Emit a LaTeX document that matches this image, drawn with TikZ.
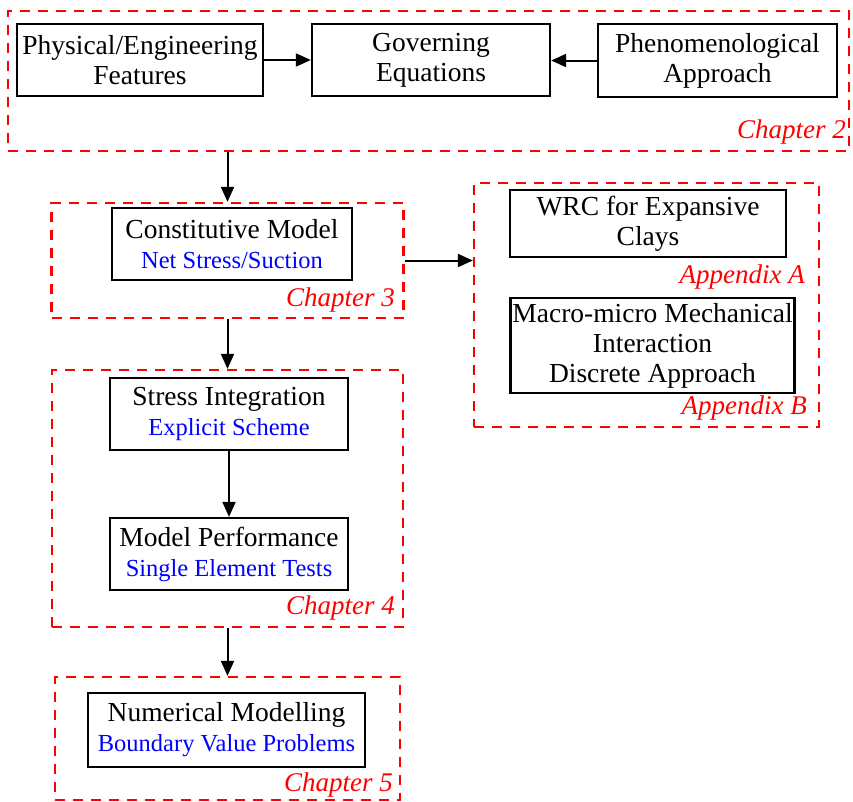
\documentclass[tikz,border=0pt]{standalone}
\usepackage{fontspec}
\setmainfont{Liberation Serif}
\usepackage{tikz}
\usetikzlibrary{positioning, arrows.meta}

\begin{document}
\begin{tikzpicture}[x=1pt, y=-1pt]
  \tikzstyle{box}=[draw=black, line width=2.3pt, inner sep=2pt, align=center, font=\fontsize{27.5}{30}\selectfont]
  \tikzstyle{frame}=[draw=red, line width=2.3pt, dash pattern=on 10pt off 8pt, inner sep=0pt]
  \tikzstyle{chap}=[anchor=east, inner sep=0pt, text=red, font=\fontsize{27}{30}\selectfont\itshape]
  \tikzstyle{arr}=[line width=2pt, -{Triangle[length=15pt, width=13pt]}]
  \newcommand{\sub}[1]{{\color{blue}\fontsize{24.5}{28}\selectfont #1}}
  \useasboundingbox (0,0) rectangle (853,801);

  % chapter 2
  \node (chap2) at (428.5, 81) [frame, minimum width=841pt, minimum height=140pt] {};
  \node (phys) at (140, 60) [box, minimum width=246pt, minimum height=72pt] {Physical/Engineering\\ Features};
  \node (gov) at (431, 60) [box, minimum width=238pt, minimum height=72pt] {Governing\\ Equations};
  \node (phen) at (717.5, 60.5) [box, minimum width=239pt, minimum height=73pt] {Phenomenological\\ Approach};
  \node (lab2) at (846, 132) [chap] {Chapter 2};
  \draw[arr] (phys.east) -- (gov.west);
  \draw[arr] (phen.west) -- (phen.west -| gov.east);

  % chapter 3
  \node (chap3) at (227.5, 260.5) [frame, minimum width=352pt, minimum height=115pt] {};
  \node (const) at (232, 244) [box, minimum width=240pt, minimum height=72pt] {Constitutive Model\\ \sub{Net Stress/Suction}};
  \node (lab3) at (395, 300) [chap] {Chapter 3};

  % appendices
  \node (app) at (646.5, 305) [frame, minimum width=345pt, minimum height=244pt] {};
  \node (wrc) at (648, 223.5) [box, minimum width=276pt, minimum height=67pt] {WRC for Expansive\\ Clays};
  \node (labA) at (805, 277) [chap] {Appendix A};
  \node (macro) at (652.5, 345.5) [box, minimum width=283pt, minimum height=95pt] {Macro-micro Mechanical\\ Interaction\\ Discrete Approach};
  \node (labB) at (807, 408) [chap] {Appendix B};

  % chapter 4
  \node (chap4) at (227.5, 498.5) [frame, minimum width=351pt, minimum height=257pt] {};
  \node (stress) at (229, 414) [box, minimum width=238pt, minimum height=72pt] {Stress Integration\\ \sub{Explicit Scheme}};
  \node (perf) at (229, 554) [box, minimum width=238pt, minimum height=72pt] {Model Performance\\ \sub{Single Element Tests}};
  \node (lab4) at (395, 608) [chap] {Chapter 4};
  \draw[arr] (stress.south) -- (perf.north);

  % chapter 5
  \node (chap5) at (227.5, 738.5) [frame, minimum width=345pt, minimum height=123pt] {};
  \node (numer) at (226.5, 730) [box, minimum width=277pt, minimum height=74pt] {Numerical Modelling\\ \sub{Boundary Value Problems}};
  \node (lab5) at (393, 785) [chap] {Chapter 5};

  % connections between chapters
  \draw[arr] (chap2.south -| chap3) -- (chap3.north);
  \draw[arr] (chap3.east) -- (app.west |- chap3.east);
  \draw[arr] (chap3.south) -- (chap4.north);
  \draw[arr] (chap4.south) -- (chap5.north);
\end{tikzpicture}
\end{document}
